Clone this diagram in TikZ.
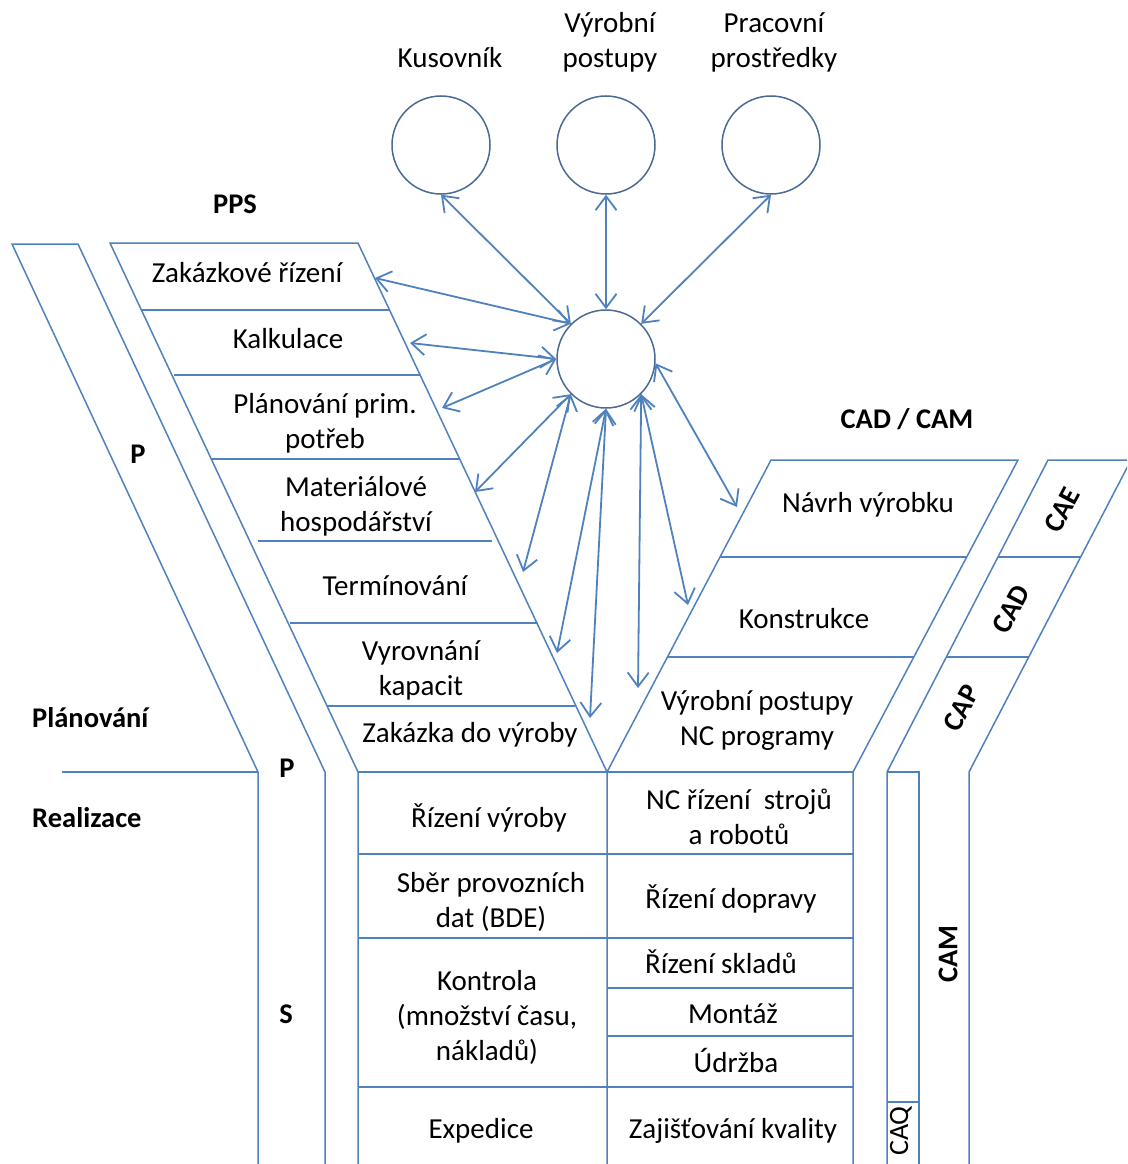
\documentclass[tikz,border=0pt]{standalone}
\usepackage{fontspec}
\setmainfont{Carlito}
\usetikzlibrary{arrows.meta}
\definecolor{edge}{HTML}{4F81BD}
\definecolor{ring}{HTML}{4A6A94}
\begin{document}
\begin{tikzpicture}[x=1pt,y=-1pt,
  outline/.style={draw=edge,line width=1.5pt},
  link/.style={draw=edge,line width=1.8pt,
    {Straight Barb[length=14pt,width=21pt]}-{Straight Barb[length=14pt,width=21pt]}},
  lbl/.style={font=\fontsize{29}{35}\selectfont,align=center,inner sep=0pt,anchor=base},
  tag/.style={font=\fontsize{28.5}{34}\selectfont\bfseries,inner sep=0pt,anchor=base},
  vtag/.style={font=\fontsize{28.5}{34}\selectfont\bfseries,inner sep=0pt},
  store/.style={circle,draw=ring,line width=1.5pt,minimum size=98pt,inner sep=0pt}]
\useasboundingbox (0,0) rectangle (1127,1164);
\clip (0,0) rectangle (1127,1164);

% ---- outer strip P / S
\draw[outline] (258,1164) -- (258,772) -- (12,244) -- (78,244) -- (325,772) -- (325,1164);
\draw[outline] (62,772) -- (258,772);

% ---- PPS funnel
\draw[outline] (358,1164) -- (358,772) -- (110,243) -- (358,243) -- (607,772) -- (607,1164);
\draw[outline] (141,310) -- (390,310);
\draw[outline] (174,375) -- (421,375);
\draw[outline] (211,459) -- (460,459);
\draw[outline] (258,541) -- (492,541);
\draw[outline] (290,623) -- (538,623);
\draw[outline] (327,706) -- (575,706);

% ---- CAD / CAM funnel
\draw[outline] (607,772) -- (771,460) -- (1018,460) -- (853,772) -- (853,1164);
\draw[outline] (720,557) -- (967,557);
\draw[outline] (668,657) -- (914,657);

% ---- CAE / CAD / CAP strip and CAQ bar
\draw[outline] (887,1164) -- (887,772) -- (1048,460) -- (1131,460) -- (969,772) -- (969,1164);
\draw[outline] (998,557) -- (1081,557);
\draw[outline] (946,657) -- (1029,657);
\draw[outline] (887,772) -- (919,772) -- (919,1164);
\draw[outline] (887,1102) -- (919,1102);

% ---- realisation table
\draw[outline] (358,772) -- (853,772);
\draw[outline] (358,854) -- (853,854);
\draw[outline] (358,938) -- (853,938);
\draw[outline] (607,988) -- (853,988);
\draw[outline] (607,1036) -- (853,1036);
\draw[outline] (358,1087) -- (853,1087);

% ---- data stores
\node[store] (kus) at (441,145) {};
\node[store] (vp) at (606,145) {};
\node[store] (pr) at (771,145) {};
\node[store] (hub) at (606,359) {};
% (base of a multi-line label = baseline of its last line)
\node[lbl] (kusL) at (450,67) {Kusovník};
\node[lbl] (vpL) at (610,67) {Výrobní\\postupy};
\node[lbl] (prL) at (774,67) {Pracovní\\prostředky};

% ---- headings
\node[tag] (pps) at (235,213) {PPS};
\node[tag] (cadcam) at (907,428) {CAD / CAM};
\node[tag,anchor=base west] (plan) at (32,727) {Plánování};
\node[tag,anchor=base west] (real) at (32,827) {Realizace};
\node[tag] (p1) at (138,463) {P};
\node[tag] (p2) at (287,777) {P};
\node[tag] (s1) at (286,1023) {S};
\node[vtag,rotate=62] (cae) at (1062,510) {CAE};
\node[vtag,rotate=62] (cad) at (1011,609) {CAD};
\node[vtag,rotate=62] (cap) at (961,708) {CAP};
\node[vtag,rotate=90] (cam) at (948,954) {CAM};
\node[font=\fontsize{28}{34}\selectfont,inner sep=0pt,rotate=90] (caq) at (901,1131) {CAQ};

% ---- PPS functions
\node[lbl] (zak) at (247,282) {Zakázkové řízení};
\node[lbl] (kal) at (288,348) {Kalkulace};
\node[lbl] (pla) at (325,448) {Plánování prim.\\potřeb};
\node[lbl] (mat) at (356,531) {Materiálové\\hospodářství};
\node[lbl] (ter) at (395,595) {Termínování};
\node[lbl] (vyr) at (421,695) {Vyrovnání\\kapacit};
\node[lbl] (zdv) at (470,742) {Zakázka do výroby};

% ---- CAD / CAM functions
\node[lbl] (nav) at (868,512) {Návrh výrobku};
\node[lbl] (kon) at (804,628) {Konstrukce};
\node[lbl] (ncp) at (757,745) {Výrobní postupy\\NC programy};

% ---- table cells
\node[lbl] (riz) at (489,827) {Řízení výroby};
\node[lbl] (ncr) at (739,844) {NC řízení~ strojů\\a robotů};
\node[lbl] (sber) at (491,927) {Sběr provozních\\dat (BDE)};
\node[lbl] (dop) at (731,908) {Řízení dopravy};
\node[lbl] (kont) at (487,1060) {Kontrola\\(množství času,\\nákladů)};
\node[lbl] (skl) at (721,973) {Řízení skladů};
\node[lbl] (mon) at (733,1023) {Montáž};
\node[lbl] (udr) at (736,1072) {Údržba};
\node[lbl] (exp) at (481,1138) {Expedice};
\node[lbl] (kval) at (733,1138) {Zajišťování kvality};

% ---- arrow ends on the funnels
\coordinate (tZak) at (375,278);
\coordinate (tKal) at (410,343);
\coordinate (tPla) at (442,408);
\coordinate (tMat) at (475,492);
\coordinate (tTer) at (523,572);
\coordinate (tVyr) at (557,653);
\coordinate (tZdv) at (590,718);
\coordinate (tNC) at (638,688);
\coordinate (tKon) at (688,605);
\coordinate (tNav) at (737,507);

% ---- data flows through the central database
\draw[link] (kus.south) -- (hub.135);
\draw[link] (vp.south) -- (hub.north);
\draw[link] (pr.south) -- (hub.45);
\draw[link] (tZak) -- (hub.135);
\draw[link] (tKal) -- (hub.180);
\draw[link] (tPla) -- (hub.180);
\draw[link] (tMat) -- (hub.225);
\draw[link] (tTer) -- (hub.225);
\draw[link] (tVyr) -- (hub.south);
\draw[link] (tZdv) -- (hub.south);
\draw[link] (tNC) -- (hub.315);
\draw[link] (tKon) -- (hub.315);
\draw[link] (tNav) -- (hub.-5);
\end{tikzpicture}
\end{document}
